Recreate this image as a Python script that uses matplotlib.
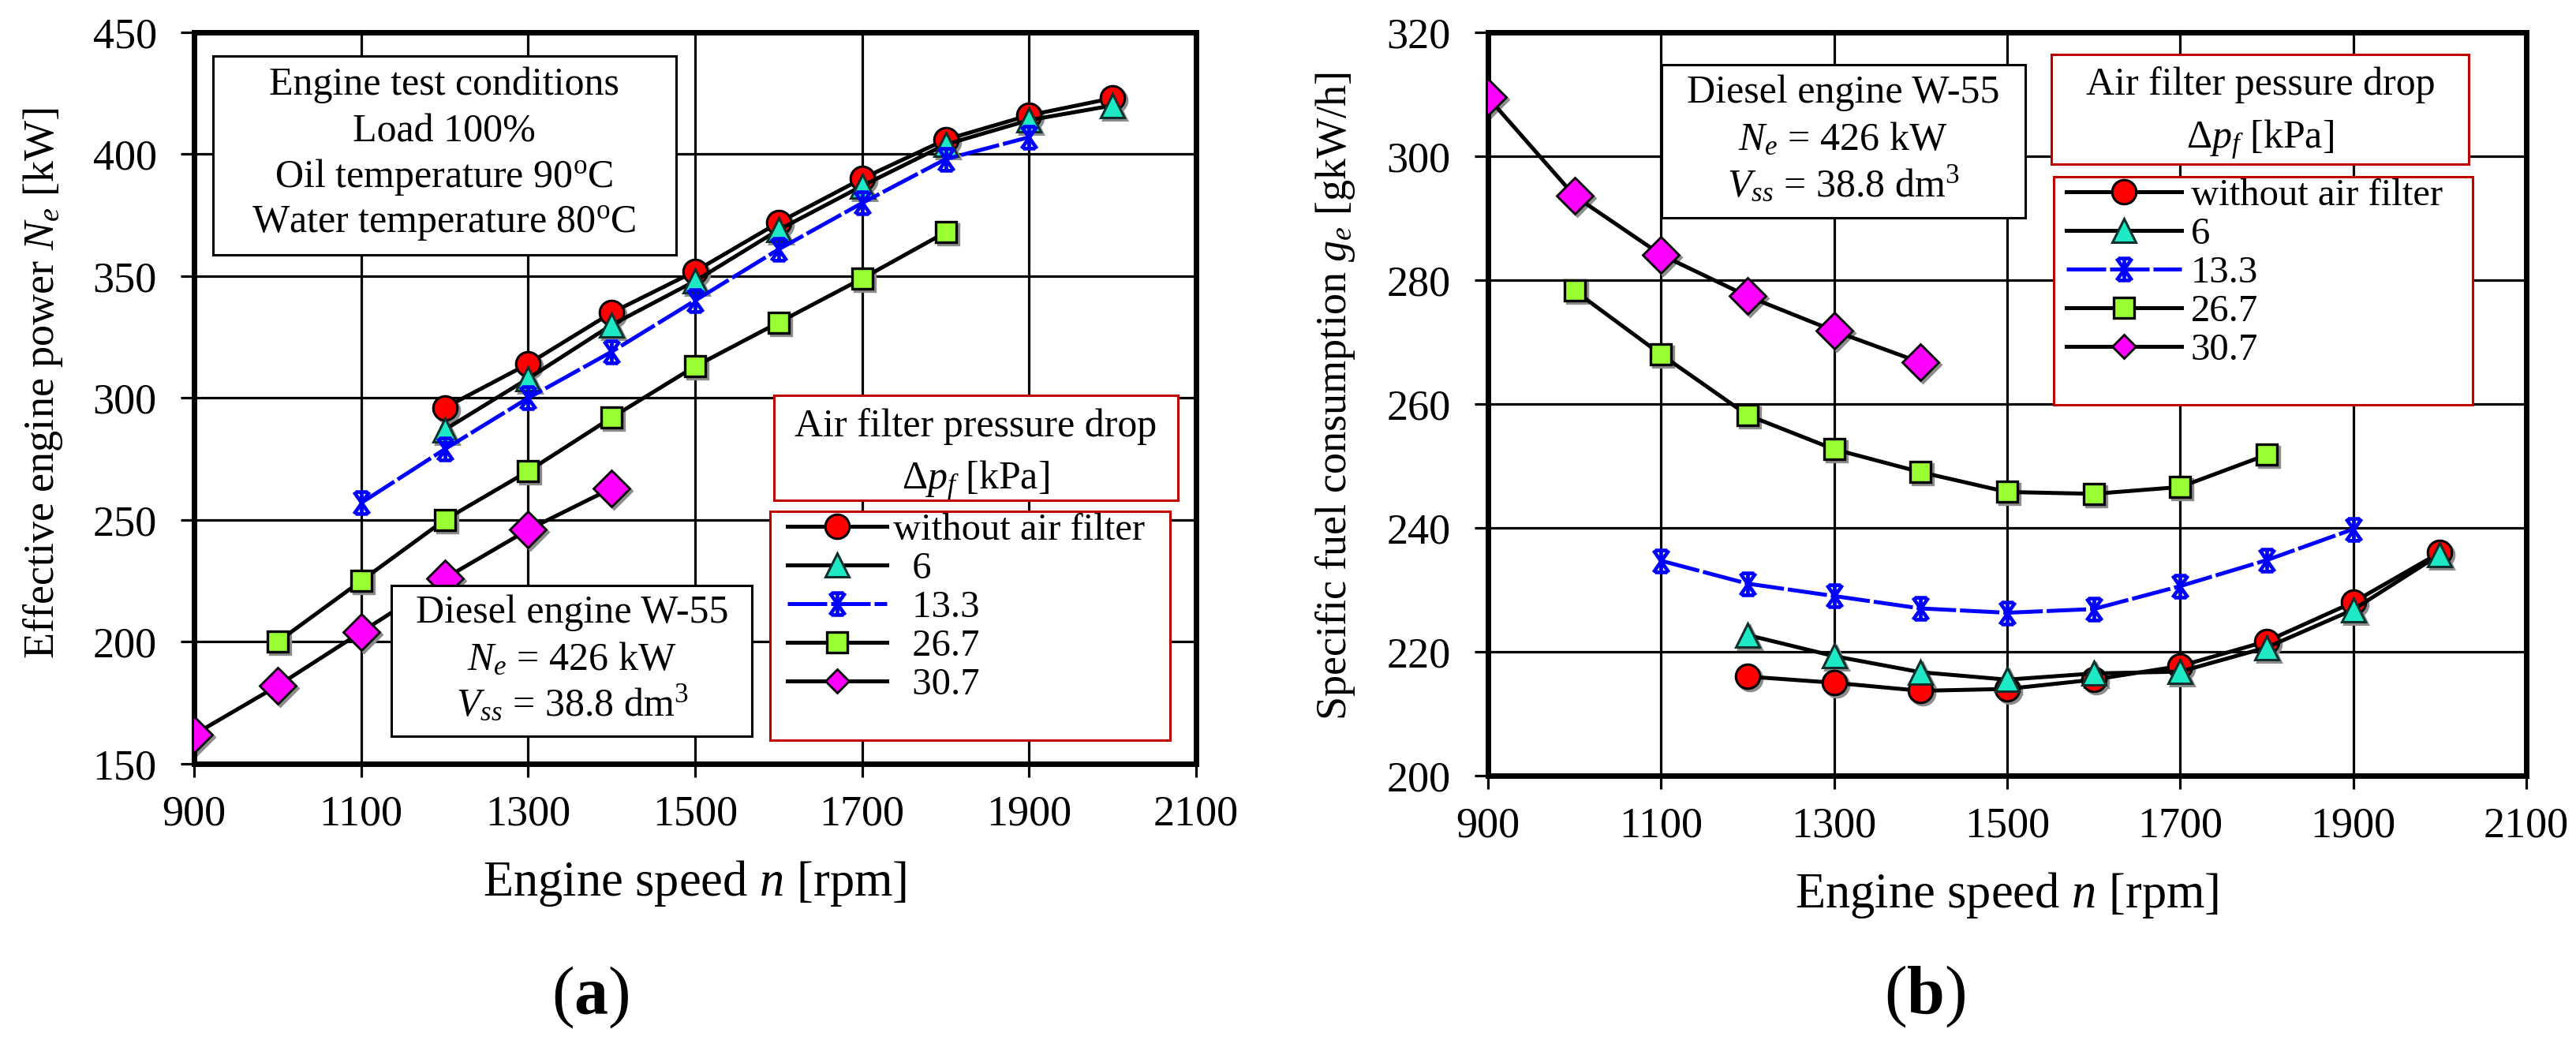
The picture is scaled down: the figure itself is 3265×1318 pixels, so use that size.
import matplotlib
matplotlib.use('Agg')
import matplotlib.pyplot as plt
import matplotlib.transforms as mtransforms
from matplotlib.patches import Rectangle
from matplotlib.path import Path

plt.rcParams['font.family'] = ['Liberation Serif', 'DejaVu Serif']
plt.rcParams['mathtext.fontset'] = 'custom'
plt.rcParams['mathtext.rm'] = 'Liberation Serif'
plt.rcParams['mathtext.it'] = 'Liberation Serif:italic'
plt.rcParams['mathtext.bf'] = 'Liberation Serif:bold'

# --- data ---
n_without = [1200, 1300, 1400, 1500, 1600, 1700, 1800, 1900, 2000]
n_6 = [1200, 1300, 1400, 1500, 1600, 1700, 1800, 1900, 2000]
n_13 = [1100, 1200, 1300, 1400, 1500, 1600, 1700, 1800, 1900]
n_26 = [1000, 1100, 1200, 1300, 1400, 1500, 1600, 1700, 1800]
n_30 = [900, 1000, 1100, 1200, 1300, 1400]

Ne_without = [296, 314, 335, 352, 372, 390, 406, 416, 423]
Ne_6 = [287, 308, 330, 348, 369, 387, 404, 414, 420]
Ne_13 = [257, 279, 300, 319, 340, 361, 380, 398, 407]
Ne_26 = [200, 225, 250, 270, 292, 313, 331, 349, 368]
Ne_30 = [162, 182, 204, 226, 246, 263]

ge_without = [216, 215, 213.7, 214, 215.5, 217.7, 221.7, 228, 236]
ge_6 = [222.7, 219.3, 216.7, 215.5, 216.5, 216.8, 220.7, 226.8, 235.7]
ge_13 = [234.7, 231, 229, 227, 226.3, 226.9, 230.6, 234.8, 239.8]
ge_26 = [278.3, 268, 258.2, 252.7, 249, 245.8, 245.5, 246.6, 251.8]
ge_30 = [309.5, 293.6, 284.1, 277.4, 271.8, 266.7]

labels_left = ['without air filter', '  6', '  13.3', '  26.7', '  30.7']
labels_right = ['without air filter', '6', '13.3', '26.7', '30.7']

W, H = 3265, 1318
fig = plt.figure(figsize=(W / 100, H / 100), dpi=100)


def fx(x):
    return x / W


def fy(y):
    return 1 - y / H


# Excel-like star marker: x with vertical bar and caps
star = Path([(-0.7, -1), (0.7, 1), (-0.7, 1), (0.7, -1), (0, -1), (0, 1),
             (-0.55, 1), (0.55, 1), (-0.55, -1), (0.55, -1)],
            [Path.MOVETO, Path.LINETO] * 5)

styles = [
    dict(color='black', marker='o', ms=22, mfc='#ff0000', mec='black', mew=2.2),
    dict(color='black', marker='^', ms=22, mfc='#1de9c4', mec='#103030', mew=2.2),
    dict(color='#0000ff', marker=star, ms=20, mfc='none', mec='#0000ff', mew=3.4,
         dashes=(10, 1)),
    dict(color='black', marker='s', ms=19, mfc='#99ff33', mec='black', mew=2.4),
    dict(color='black', marker='D', ms=23, mfc='#ff00ff', mec='black', mew=2.0),
]


def draw_panel(ax, xs, ys, ylim, ystep):
    shadow = mtransforms.offset_copy(ax.transData, fig=fig, x=3, y=-3, units='dots')
    lines = []
    for x, y, st in zip(xs, ys, styles):
        if st['marker'] is not star:
            ax.plot(x, y, ls='none', marker=st['marker'], ms=st['ms'],
                    mfc='#8c8c8c', mec='#8c8c8c', mew=st['mew'],
                    transform=shadow, zorder=2)
        kw = dict(st)
        dashes = kw.pop('dashes', None)
        ln, = ax.plot(x, y, lw=3.6, zorder=3, **kw)
        if dashes:
            ln.set_dashes(dashes)
        lines.append(ln)
    ax.set_xlim(900, 2100)
    ax.set_ylim(*ylim)
    ax.set_xticks(range(900, 2101, 200))
    ax.set_yticks(range(ylim[0], ylim[1] + 1, ystep))
    ax.grid(True, color='black', lw=2.3)
    ax.set_axisbelow(True)
    for s in ax.spines.values():
        s.set_linewidth(5)
    ax.tick_params(axis='both', direction='out', length=12, width=2.3, labelsize=39)
    ax.tick_params(axis='x', pad=16)
    ax.tick_params(axis='y', pad=22)
    return lines


def box(ax, x0, y0, x1, y1, ec, lw=2.2):
    r = Rectangle((fx(x0), fy(y1)), (x1 - x0) / W, (y1 - y0) / H,
                  transform=fig.transFigure, facecolor='white', edgecolor=ec,
                  lw=lw, zorder=5, clip_on=False)
    ax.add_artist(r)


def lines_text(ax, xc, ys, texts, size=36):
    for y, t in zip(ys, texts):
        ax.text(fx(xc), fy(y), t, transform=fig.transFigure, ha='center',
                va='center', fontsize=size, zorder=6)


# --- panel (a) ---
ax1 = fig.add_axes([fx(246), fy(968), 1270 / W, 927 / H])
l1 = draw_panel(ax1, [n_without, n_6, n_13, n_26, n_30],
                [Ne_without, Ne_6, Ne_13, Ne_26, Ne_30], (150, 450), 50)
ax1.set_xlabel('Engine speed $n$ [rpm]', fontsize=45, labelpad=22)
ax1.set_ylabel('Effective engine power $N_e$ [kW]', fontsize=39)
ax1.yaxis.set_label_coords(-0.129, 0.52)

box(ax1, 270, 71, 857, 323, 'black')
lines_text(ax1, 563, [108, 167, 225, 284],
           ['Engine test conditions', 'Load 100%', 'Oil temperature 90$^\\mathrm{o}$C',
            'Water temperature 80$^\\mathrm{o}$C'])
box(ax1, 981, 501, 1493, 634, '#c00000')
lines_text(ax1, 1237, [541, 609], ['Air filter pressure drop', '$\\Delta p_f$ [kPa]'])
box(ax1, 976, 648, 1483, 938, '#c00000')
box(ax1, 496, 742, 953, 933, 'black')
lines_text(ax1, 725, [777, 837, 893],
           ['Diesel engine W-55', '$N_e$ = 426 kW', '$V_{ss}$ = 38.8 dm$^3$'])
leg1 = ax1.legend(l1, labels_left, loc='upper left', bbox_to_anchor=(fx(998), fy(650)),
                  bbox_transform=fig.transFigure, frameon=False, fontsize=35,
                  borderpad=0, borderaxespad=0, handlelength=2.6, handletextpad=0.15,
                  labelspacing=0.1, numpoints=1)
leg1.set_zorder(7)

# --- panel (b) ---
ax2 = fig.add_axes([fx(1886), fy(983), 1316 / W, 942 / H])
l2 = draw_panel(ax2, [n_without, n_6, n_13, n_26, n_30],
                [ge_without, ge_6, ge_13, ge_26, ge_30], (200, 320), 20)
ax2.set_xlabel('Engine speed $n$ [rpm]', fontsize=45, labelpad=22)
ax2.set_ylabel('Specific fuel consumption $g_e$ [gkW/h]', fontsize=39)
ax2.yaxis.set_label_coords(-0.126, 0.51)

box(ax2, 2106, 82, 2567, 276, 'black')
lines_text(ax2, 2336, [118, 178, 235],
           ['Diesel engine W-55', '$N_e$ = 426 kW', '$V_{ss}$ = 38.8 dm$^3$'])
box(ax2, 2600, 69, 3129, 208, '#c00000')
lines_text(ax2, 2865, [108, 177], ['Air filter pessure drop', '$\\Delta p_f$ [kPa]'])
box(ax2, 2603, 224, 3134, 513, '#c00000')
leg2 = ax2.legend(l2, labels_right, loc='upper left', bbox_to_anchor=(fx(2619), fy(226)),
                  bbox_transform=fig.transFigure, frameon=False, fontsize=35,
                  borderpad=0, borderaxespad=0, handlelength=3.0, handletextpad=0.25,
                  labelspacing=0.1, numpoints=1)
leg2.set_zorder(7)

for leg in (leg1, leg2):
    leg.legend_handles[4].set_markersize(15)

fig.text(fx(748), fy(1264), '($\\mathbf{a}$)', ha='center', va='center', fontsize=62)
fig.text(fx(2440), fy(1263), '($\\mathbf{b}$)', ha='center', va='center', fontsize=62)

fig.savefig('out.png', dpi=100)
